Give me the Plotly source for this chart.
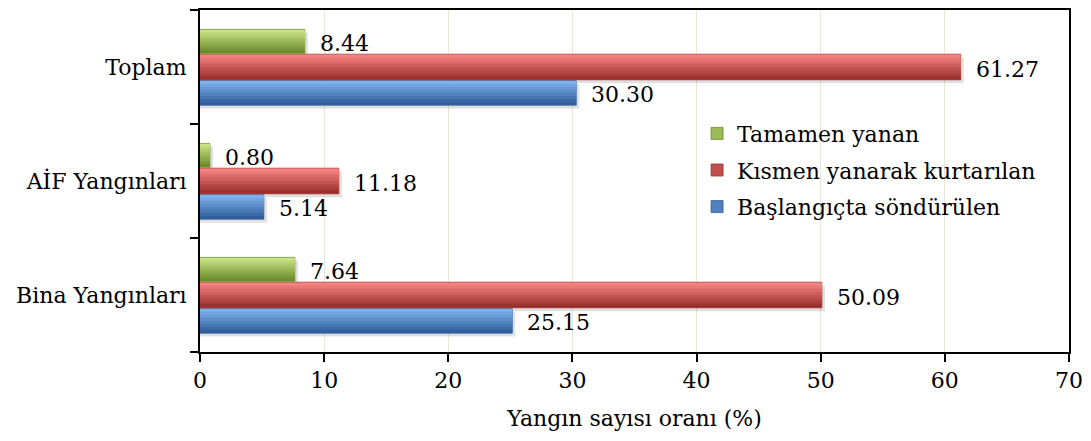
import plotly.graph_objects as go

# Categories (bottom to top on the y axis)
categories = ["Bina Yangınları", "AİF Yangınları", "Toplam"]

# Series values (%)
tamamen_yanan = [7.64, 0.80, 8.44]
kismen_yanarak = [50.09, 11.18, 61.27]
baslangicta_sonduruldu = [25.15, 5.14, 30.30]

series_names = ["Başlangıçta söndürülen", "Kısmen yanarak kurtarılan", "Tamamen yanan"]
legend_ranks = [3, 2, 1]

x_ticks = [0, 10, 20, 30, 40, 50, 60, 70]

FONT = "DejaVu Serif"
FS = 22


def mix(c1, c2, t):
    a = [int(c1[i:i + 2], 16) for i in (1, 3, 5)]
    b = [int(c2[i:i + 2], 16) for i in (1, 3, 5)]
    return "#" + "".join(f"{round(x + (y - x) * t):02X}" for x, y in zip(a, b))


# style per series: (values, base, light, dark, offset, width)
styles = [
    (baslangicta_sonduruldu, "#4F81BD", "#7FB3EE", "#2F5D99", -0.335, 0.215),
    (kismen_yanarak, "#C0504D", "#F58381", "#9A302E", -0.112, 0.224),
    (tamamen_yanan, "#9BBB59", "#C8E385", "#6C8A2C", 0.118, 0.212),
]

fig = go.Figure()

# soft drop shadows
for (vals, base, light, dark, off, w) in styles:
    fig.add_trace(go.Bar(
        y=categories, x=[v + 0.25 for v in vals], orientation="h",
        offset=off - 0.03, width=w,
        marker=dict(color="rgba(0,0,0,0.12)", line=dict(width=0)),
        showlegend=False, hoverinfo="skip",
    ))

N_STRIPS = 8
for (vals, base, light, dark, off, w), name, rank in zip(styles, series_names, legend_ranks):
    # main bar (legend entry)
    fig.add_trace(go.Bar(
        y=categories, x=vals, orientation="h", name=name,
        offset=off, width=w, legendrank=rank, legendgroup=name,
        marker=dict(color=base, line=dict(width=0.8, color=dark)),
    ))
    # vertical shading: light on top, darker towards the bottom;
    # each layer reaches down to the bar's lower edge so no seams show
    sw = w / N_STRIPS
    for k in range(N_STRIPS):
        t = k / (N_STRIPS - 1)
        col = mix(light, dark, t)
        top = off + w - k * sw - (0.003 if k == 0 else 0)
        bottom = off + 0.003
        fig.add_trace(go.Bar(
            y=categories, x=vals, orientation="h",
            offset=bottom, width=top - bottom,
            marker=dict(color=col, line=dict(width=0)),
            showlegend=False, hoverinfo="skip", legendgroup=name,
        ))

# value labels
for (vals, base, light, dark, off, w) in styles:
    for i, v in enumerate(vals):
        fig.add_annotation(
            x=v, y=i + off + w / 2, xref="x", yref="y",
            text=f"{v:.2f}", showarrow=False, xanchor="left",
            xshift=13, yshift=-2,
            font=dict(family=FONT, size=FS, color="black"),
        )

fig.update_layout(
    width=1091, height=441,
    margin=dict(l=200, r=20, t=8, b=89),
    paper_bgcolor="white", plot_bgcolor="white",
    barmode="overlay",
    font=dict(family=FONT, size=FS, color="black"),
    showlegend=True,
    legend=dict(
        x=0.572, y=0.70, xanchor="left", yanchor="top",
        traceorder="grouped", tracegroupgap=5,
        bgcolor="rgba(0,0,0,0)",
        font=dict(family=FONT, size=FS, color="black"),
    ),
    xaxis=dict(
        range=[0, 70], tickvals=x_ticks, ticktext=[str(t) for t in x_ticks],
        showgrid=True, gridcolor="#E9E7DC", gridwidth=1,
        showline=True, linecolor="black", linewidth=2, mirror=True,
        ticks="outside", ticklen=8, tickwidth=1.5, tickcolor="black",
        zeroline=False,
        title=dict(text="Yangın sayısı oranı (%)", standoff=18,
                   font=dict(family=FONT, size=FS)),
        tickfont=dict(family=FONT, size=FS),
    ),
    yaxis=dict(
        type="category", categoryorder="array", categoryarray=categories,
        range=[-0.5, 2.5],
        showline=True, linecolor="black", linewidth=2, mirror=True,
        ticks="outside", tickson="boundaries", ticklen=8, tickwidth=1.5,
        tickcolor="black", showgrid=False,
        tickfont=dict(family=FONT, size=FS),
        ticklabelstandoff=7,
    ),
)

fig.write_html("out.html")
